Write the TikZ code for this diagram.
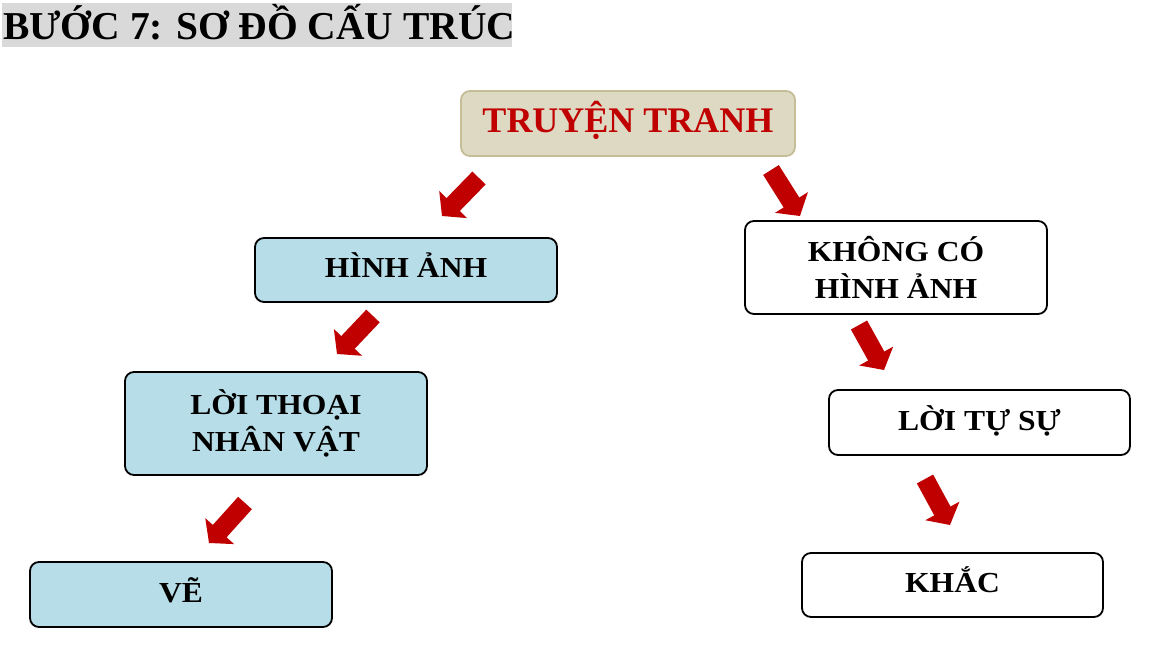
\documentclass[tikz,border=0pt]{standalone}
\usepackage{fontspec}
\setmainfont{Liberation Serif}
\usetikzlibrary{arrows.meta}
\definecolor{titlegray}{HTML}{D9D9D9}
\definecolor{arrred}{HTML}{C00000}
\definecolor{boxblue}{HTML}{B7DEE8}
\definecolor{boxtan}{HTML}{DDD9C3}
\definecolor{tanline}{HTML}{C4BD97}
\newcommand\boxfont{\fontsize{29}{36.6}\selectfont\bfseries\addfontfeature{FakeStretch=1.09}}
\begin{document}
\begin{tikzpicture}[x=1pt,y=-1pt,
  box/.style={draw=black, line width=1.8pt, rounded corners=9pt, inner sep=0pt,
    font=\boxfont, align=center},
  oneline/.style={text height=22pt, text depth=7pt},
  bluebox/.style={box, fill=boxblue},
  whitebox/.style={box, fill=white},
  bigarrow/.style={draw=arrred, line width=18.5pt, -{Triangle[width=38pt,length=16pt]}, arrred}
]
\useasboundingbox (0,0) rectangle (1160,649);
\fill[white] (0,0) rectangle (1160,649);
% title
\fill[titlegray] (2,3) rectangle (512,47);
\node[anchor=base west, inner sep=0pt, font=\fontsize{39.5}{44}\selectfont\bfseries] (title) at (3,39) {BƯỚC 7: SƠ ĐỒ CẤU TRÚC};
% boxes
\node[box, draw=tanline, fill=boxtan, text=arrred, font=\fontsize{36}{40}\selectfont\bfseries,
  text height=24pt, text depth=6.4pt,
  minimum width=334pt, minimum height=65pt] (root) at (628,123.5) {TRUYỆN TRANH};
\node[bluebox, oneline, minimum width=302pt, minimum height=64pt] (hinh) at (406,270) {HÌNH ẢNH};
\node[bluebox, minimum width=302pt, minimum height=103pt] (loi) at (276,423.5) {LỜI THOẠI\\NHÂN VẬT};
\node[bluebox, oneline, minimum width=302pt, minimum height=65pt] (ve) at (181,594.5) {VẼ};
\node[whitebox, minimum width=302pt, minimum height=93pt] (khong) at (896,267.5) {KHÔNG CÓ\\HÌNH ẢNH};
\node[whitebox, oneline, minimum width=301pt, minimum height=65pt] (tusu) at (979.5,422.5) {LỜI TỰ SỰ};
\node[whitebox, oneline, minimum width=301pt, minimum height=64pt] (khac) at (952.5,585) {KHẮC};
% arrow endpoints
\coordinate (a1s) at (479,178); \coordinate (a1e) at (442,216);
\coordinate (a2s) at (771,170); \coordinate (a2e) at (800,216);
\coordinate (a3s) at (373,316); \coordinate (a3e) at (337,354);
\coordinate (a4s) at (859,325); \coordinate (a4e) at (884,370);
\coordinate (a5s) at (925,479); \coordinate (a5e) at (950,525);
\coordinate (a6s) at (245,503); \coordinate (a6e) at (209,543);
\draw[bigarrow] (a1s) -- (a1e);
\draw[bigarrow] (a2s) -- (a2e);
\draw[bigarrow] (a3s) -- (a3e);
\draw[bigarrow] (a4s) -- (a4e);
\draw[bigarrow] (a5s) -- (a5e);
\draw[bigarrow] (a6s) -- (a6e);
\end{tikzpicture}
\end{document}
